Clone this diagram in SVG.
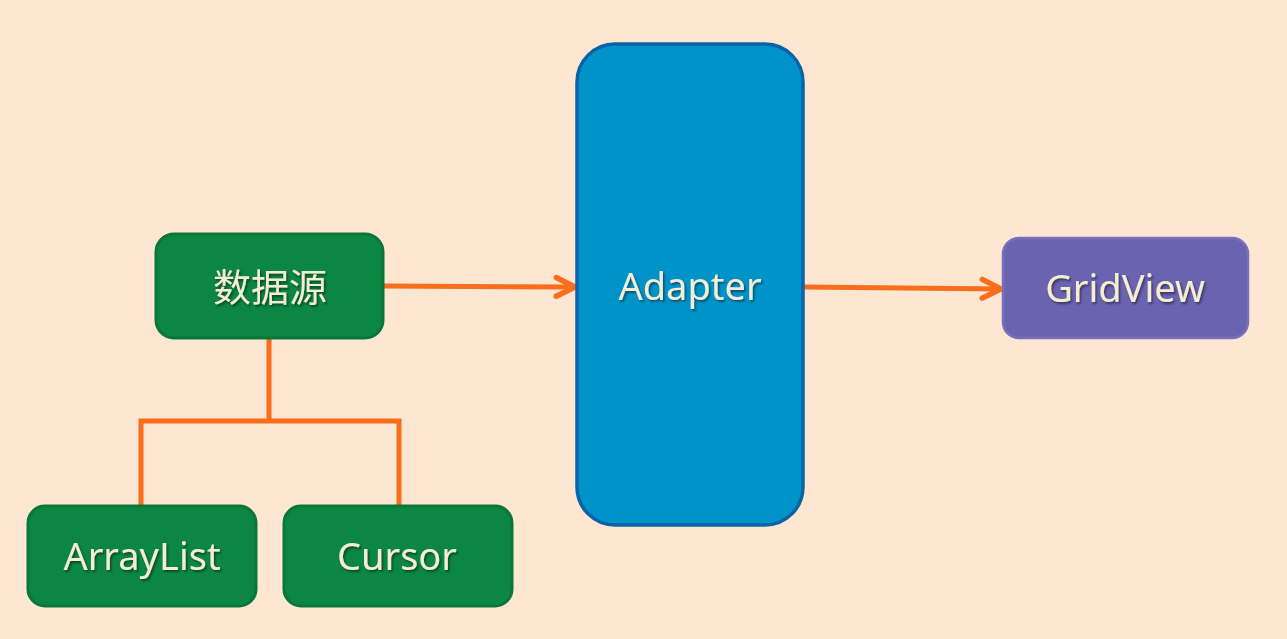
<svg xmlns="http://www.w3.org/2000/svg" width="1287" height="639" viewBox="0 0 1287 639">
<style>
.lbl{font-family:"Noto Sans","Noto Sans CJK SC",sans-serif;font-size:38px;fill:#f5ecd2;text-anchor:middle;dominant-baseline:central;filter:url(#sh)}
.green{fill:#0b8743;stroke:#0a7639;stroke-width:3}
.conn{stroke:#f86e1c;stroke-width:5;fill:none;stroke-linecap:round;stroke-linejoin:miter}
</style>
<defs>
<filter id="sh" x="-10%" y="-20%" width="130%" height="150%">
<feDropShadow dx="1.5" dy="2" stdDeviation="1" flood-color="#000" flood-opacity="0.45"/>
</filter>
<marker id="arr" viewBox="0 0 12 12" refX="11" refY="6" markerWidth="5" markerHeight="5" markerUnits="strokeWidth" orient="auto">
<path d="M2,1.5 L11,6 L2,10.5" fill="none" stroke="#f86e1c" stroke-width="2.6" stroke-linecap="round" stroke-linejoin="round"/>
</marker>
</defs>
<rect width="1287" height="639" fill="#fde6d2"/>
<g id="connectors">
<line class="conn" x1="384" y1="286" x2="575" y2="287" marker-end="url(#arr)"/>
<line class="conn" x1="804" y1="287" x2="1001" y2="289" marker-end="url(#arr)"/>
<path class="conn" d="M269,339 V421 M141,506 V421 H399 V506"/>
</g>
<g id="datasource">
<rect class="green" x="156" y="234" width="227" height="104" rx="18"/>
<text class="lbl" x="270" y="286">数据源</text>
</g>
<g id="adapter">
<rect x="577" y="44" width="226" height="481" rx="38" fill="#0093c9" stroke="#0a63a6" stroke-width="3.5"/>
<text class="lbl" x="690" y="285">Adapter</text>
</g>
<g id="gridview">
<rect x="1003" y="238" width="245" height="100" rx="16" fill="#6a63b0" stroke="#7870bb" stroke-width="2.5"/>
<text class="lbl" x="1125" y="287">GridView</text>
</g>
<g id="arraylist">
<rect class="green" x="28" y="506" width="228" height="100" rx="17"/>
<text class="lbl" x="142" y="555">ArrayList</text>
</g>
<g id="cursor">
<rect class="green" x="284" y="506" width="228" height="100" rx="17"/>
<text class="lbl" x="397" y="555">Cursor</text>
</g>
</svg>
